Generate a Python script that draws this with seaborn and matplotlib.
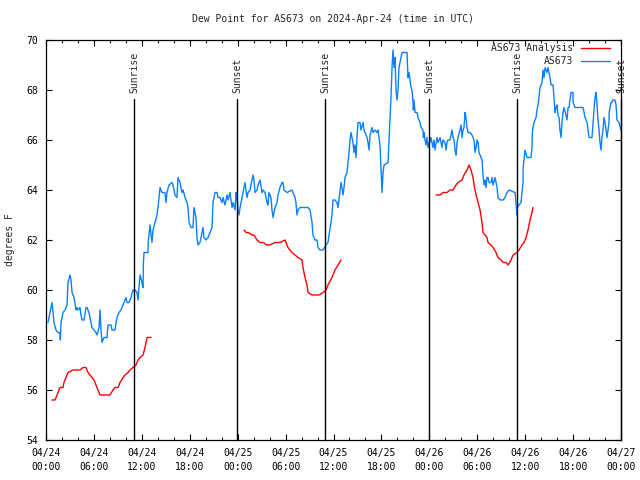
import matplotlib
matplotlib.use("Agg")
import matplotlib.pyplot as plt
import numpy as np
import pandas as pd
import seaborn as sns
from matplotlib.ticker import MultipleLocator
from matplotlib.lines import Line2D

# ---------------- data ----------------
title = "Dew Point for AS673 on 2024-Apr-24 (time in UTC)"
y_label = "degrees F"
series_names = ["AS673 Analysis", "AS673"]

xtick_hours = [0, 6, 12, 18, 24, 30, 36, 42, 48, 54, 60, 66, 72]
xtick_labels = ["04/24\n00:00", "04/24\n06:00", "04/24\n12:00", "04/24\n18:00",
                "04/25\n00:00", "04/25\n06:00", "04/25\n12:00", "04/25\n18:00",
                "04/26\n00:00", "04/26\n06:00", "04/26\n12:00", "04/26\n18:00",
                "04/27\n00:00"]
yticks = [54, 56, 58, 60, 62, 64, 66, 68, 70]

sun_hours = [11.0, 23.92, 34.94, 47.96, 58.98, 72.0]
sun_labels = ["Sunrise", "Sunset", "Sunrise", "Sunset", "Sunrise", "Sunset"]

# observed dew point (hours since 04/24 00:00 UTC, deg F)
obs_hours = [
    0.25, 0.50, 0.75, 1.00, 1.25, 1.50, 1.75, 1.80, 1.88, 2.13, 2.38, 2.63, 2.75, 3.01, 3.13, 3.26,
    3.51, 3.76, 3.88, 4.01, 4.26, 4.38, 4.51, 4.76, 5.01, 5.13, 5.38, 5.63, 5.76, 6.01, 6.26, 6.39,
    6.64, 6.76, 6.89, 7.01, 7.26, 7.64, 7.76, 8.14, 8.26, 8.64, 8.77, 8.89, 9.14, 9.39, 9.52, 9.77,
    10.02, 10.14, 10.39,
    10.52, 10.64, 10.89, 11.14, 11.40, 11.52, 11.77, 12.02, 12.15, 12.20, 12.27, 12.77, 12.80, 13.02,
    13.27, 13.40, 13.65, 13.90, 14.02, 14.28, 14.53, 14.90, 15.03, 15.15, 15.40, 15.78, 15.90, 16.15,
    16.40, 16.53, 16.78, 17.03, 17.16, 17.41, 17.66, 17.78, 17.91, 18.16, 18.41, 18.53, 18.78, 18.91,
    19.03, 19.28, 19.41, 19.66, 19.78, 20.04, 20.29, 20.79, 20.91, 21.16, 21.41, 21.54, 21.79, 22.04,
    22.16, 22.41, 22.67, 22.79, 23.04, 23.29, 23.42, 23.67, 23.79, 23.92, 24.04, 24.17, 24.30, 24.55,
    24.67, 24.92, 25.17, 25.30,
    25.55, 25.92, 26.05, 26.17, 26.42, 26.55, 26.80, 27.05, 27.17, 27.42, 27.67, 27.80, 27.92, 28.17,
    28.30, 28.43, 28.55, 28.68, 28.93, 29.05, 29.30, 29.55, 29.68, 29.80, 30.18, 30.80, 31.18, 31.30,
    31.43, 31.56, 31.81, 32.81, 33.06, 33.31, 33.43, 33.68, 33.93, 34.06, 34.31, 34.69, 35.06, 35.31,
    35.44, 35.69, 35.81, 35.94, 36.19, 36.44, 36.56, 36.69, 36.94, 37.07, 37.19, 37.32, 37.44, 37.69,
    37.82, 37.94, 38.07, 38.19, 38.44, 38.57, 38.69, 38.82, 38.94, 39.07, 39.32, 39.44, 39.70, 39.82,
    39.95, 40.20, 40.32, 40.45,
    40.57, 40.82, 40.95, 41.20, 41.45, 41.57, 41.82, 41.95, 42.08, 42.20, 42.33, 42.83, 42.95, 43.20,
    43.33, 43.45, 43.58, 43.70, 43.83, 43.95, 44.08, 44.20, 44.45, 44.58, 45.21, 45.25, 45.33, 45.46,
    45.71, 45.83, 45.96, 46.00, 46.08, 46.21, 46.46, 46.58, 46.83, 46.96, 47.21, 47.25, 47.33, 47.46,
    47.58, 47.71, 47.83, 47.96, 48.08, 48.21, 48.34, 48.46, 48.59, 48.71, 48.96, 49.09, 49.34, 49.59,
    49.71, 49.96, 50.09, 50.21, 50.34, 50.59, 50.84, 50.97, 51.09, 51.22, 51.34, 51.47, 51.59, 51.84,
    51.97, 52.09, 52.22, 52.34, 52.47, 52.59, 52.72, 52.85, 53.10, 53.35, 53.47, 53.60, 53.72, 53.85,
    53.97, 54.10, 54.22, 54.47, 54.60, 54.72, 54.85, 54.97, 55.10, 55.22, 55.35, 55.48, 55.73, 55.85,
    55.98, 56.23, 56.35, 56.48, 56.60,
    56.85, 57.23, 57.48, 57.73, 57.98, 58.73, 58.85, 58.98, 59.00, 59.23, 59.48, 59.60, 59.73, 59.75,
    59.98, 60.23, 60.73, 60.86, 60.90, 60.98, 61.11, 61.36, 61.48, 61.61, 61.73, 61.86, 62.11, 62.23,
    62.36, 62.49, 62.74, 62.86, 62.99, 63.11, 63.24, 63.49, 63.61, 63.74, 63.86, 63.99, 64.11, 64.24,
    64.36, 64.49, 64.61, 64.74, 64.86, 65.11, 65.24, 65.37, 65.49, 65.74, 65.99, 66.00, 66.24, 67.25,
    67.50, 67.75, 67.87, 68.00, 68.37, 68.50, 68.62, 68.75, 68.87, 69.00, 69.12, 69.25, 69.37, 69.50,
    69.62, 69.75, 69.87, 70.00, 70.25, 70.37, 70.50, 70.52, 70.75, 70.88, 71.00, 71.25, 71.38, 71.50,
    71.75, 72.00,
]
obs_dewpoint = [
    58.7, 59.1, 59.5, 58.7, 58.4, 58.3, 58.3, 58.0, 58.7, 59.1, 59.2, 59.4, 60.3, 60.6, 60.4, 59.9,
    59.7, 59.2, 59.3, 59.2, 59.3, 59.0, 58.8, 58.8, 59.3, 59.3, 59.1, 58.7, 58.5, 58.4, 58.3, 58.2,
    58.5, 59.2, 58.4, 57.9, 58.1, 58.1, 58.6, 58.6, 58.4, 58.4, 58.7, 58.9, 59.1, 59.2, 59.3, 59.5,
    59.7, 59.5, 59.5,
    59.6, 59.7, 60.0, 60.0, 59.9, 59.6, 60.6, 60.3, 60.1, 61.1, 61.5, 61.5, 61.9, 62.6,
    61.9, 62.4, 62.7, 63.0, 63.3, 64.1, 63.9, 63.9, 63.5, 63.9, 64.2, 64.3, 64.2, 63.8,
    63.7, 64.5, 64.3, 63.9, 64.0, 63.7, 63.5, 63.3, 62.7, 62.5, 62.5, 63.3, 62.9, 62.1,
    61.8, 61.9, 62.1, 62.5, 62.1, 62.0, 62.1, 62.5, 63.5, 63.9, 63.9, 63.7, 63.7, 63.5,
    63.7, 63.4, 63.8, 63.6, 63.9, 63.3, 63.5, 63.2, 63.9, 63.7, 63.2, 63.0, 63.3, 63.7,
    63.9, 64.3, 63.7, 63.9,
    64.0, 64.6, 64.4, 63.9, 64.0, 64.2, 64.4, 63.9, 64.0, 63.9, 63.5, 63.4, 63.9, 63.7,
    63.2, 62.9, 63.1, 63.3, 63.5, 63.8, 64.1, 64.3, 64.3, 64.0, 63.9, 64.0, 63.7, 63.5,
    63.0, 63.2, 63.3, 63.3, 63.2, 62.7, 62.2, 62.0, 62.0, 61.7, 61.6, 61.6, 61.8, 61.9,
    62.2, 62.7, 63.0, 63.6, 63.6, 63.5, 63.3, 63.6, 64.3, 64.1, 63.8, 64.1, 64.5, 64.7,
    65.1, 65.5, 66.0, 66.3, 65.9, 65.5, 65.8, 65.3, 66.1, 66.7, 66.7, 66.4, 66.7, 66.4,
    66.3, 66.1, 65.9, 65.6,
    66.2, 66.5, 66.3, 66.4, 66.3, 66.4, 65.8, 64.8, 63.9, 64.7, 65.0, 65.1, 66.0, 67.7,
    68.9, 69.6, 68.9, 69.3, 68.0, 67.6, 68.0, 68.9, 69.3, 69.5, 69.5, 69.1, 68.5, 68.7,
    68.1, 68.0, 67.5, 67.2, 67.6, 67.1, 67.1, 66.9, 66.7, 66.5, 66.4, 66.1, 66.3, 66.0,
    65.8, 66.1, 65.7, 65.9, 65.9, 66.1, 65.9, 65.7, 66.0, 65.6, 66.1, 65.9, 66.1, 65.7,
    66.0, 65.9, 65.6, 65.9, 66.0, 66.0, 66.4, 66.1, 66.0, 65.6, 65.4, 65.9, 66.1, 66.4,
    66.6, 66.1, 66.4, 66.5, 67.1, 66.9, 66.5, 66.3, 66.3, 66.2, 66.1, 66.0, 65.5, 65.7,
    66.0, 65.9, 65.5, 65.3, 65.2, 64.6, 64.2, 64.4, 64.1, 64.5, 64.5, 64.3, 64.3, 64.5,
    64.2, 64.5, 64.3, 64.1, 63.7,
    63.6, 63.6, 63.7, 63.9, 64.0, 63.9, 63.5, 63.0, 63.3, 63.4, 63.5, 63.9, 64.3, 64.9,
    65.6, 65.3, 65.3, 65.7, 66.3, 66.5, 66.7, 66.9, 67.2, 67.4, 67.7, 68.1, 68.3, 68.8,
    68.5, 68.9, 68.7, 68.9, 68.7, 68.5, 68.2, 68.2, 67.7, 67.1, 67.3, 67.4, 67.0, 66.9,
    66.4, 66.1, 66.7, 67.1, 67.3, 67.0, 66.8, 67.3, 67.3, 67.9, 67.9, 67.5, 67.3, 67.3,
    66.9, 66.7, 66.4, 66.1, 66.1, 66.7, 67.2, 67.7, 67.9, 67.4, 66.8, 66.4, 65.9, 65.6,
    66.1, 66.4, 66.9, 66.7, 66.1, 66.4, 66.7, 67.1, 67.5, 67.5, 67.6, 67.6, 67.4, 66.8,
    66.7, 66.4,
]

# analysis runs (three separate segments)
ana1_hours = [0.75, 1.13, 1.38, 1.50, 1.75, 2.13, 2.25, 2.50, 2.75, 3.38, 4.26, 4.63, 5.01, 5.26,
              5.51, 5.76, 6.01, 6.26, 6.51, 6.76, 7.39, 8.01, 8.39, 8.64, 9.02, 9.27, 9.64, 9.89,
              10.27, 10.52, 10.89, 11.27, 11.52, 11.77, 12.15, 12.40, 12.65, 13.15]
ana1_dewpoint = [55.6, 55.6, 55.8, 55.9, 56.1, 56.1, 56.3, 56.5, 56.7, 56.8, 56.8, 56.9, 56.9, 56.7,
                 56.6, 56.5, 56.4, 56.2, 56.0, 55.8, 55.8, 55.8, 56.0, 56.1, 56.1, 56.3, 56.5, 56.6,
                 56.7, 56.8, 56.9, 57.0, 57.2, 57.3, 57.4, 57.7, 58.1, 58.1]
ana2_hours = [24.79, 25.04, 25.30, 25.80, 26.05, 26.42, 26.80, 27.17, 27.67, 28.05, 28.68, 29.30,
              29.93, 30.30, 30.80, 31.18, 31.56, 32.06, 32.18, 32.43, 32.68, 32.81, 33.31, 33.81,
              34.18, 34.69, 35.06, 35.31, 35.81, 36.19, 36.57, 36.94]
ana2_dewpoint = [62.4, 62.3, 62.3, 62.2, 62.2, 62.0, 61.9, 61.9, 61.8, 61.8, 61.9, 61.9,
                 62.0, 61.7, 61.5, 61.4, 61.3, 61.2, 60.9, 60.5, 60.2, 59.9, 59.8, 59.8,
                 59.8, 59.9, 60.0, 60.2, 60.5, 60.8, 61.0, 61.2]
ana3_hours = [48.84, 48.96, 49.34, 49.71, 50.21, 50.59, 50.97, 51.34, 51.59, 52.09, 52.34, 52.72,
              52.97, 53.22, 53.47, 53.60, 53.85, 54.10, 54.35, 54.60, 54.72, 54.97, 55.22, 55.35,
              55.73, 55.98, 56.35, 56.60, 56.98, 57.23, 57.60, 57.85, 58.23, 58.48, 58.98, 59.23,
              59.60, 59.86, 60.11, 60.36, 60.61, 60.86, 60.98]
ana3_dewpoint = [63.8, 63.8, 63.8, 63.9, 63.9, 64.0, 64.0, 64.2, 64.3, 64.4, 64.6, 64.8,
                 65.0, 64.8, 64.5, 64.2, 63.8, 63.5, 63.2, 62.7, 62.3, 62.2, 62.1, 61.9,
                 61.8, 61.7, 61.5, 61.3, 61.2, 61.1, 61.1, 61.0, 61.2, 61.4, 61.5, 61.6,
                 61.8, 61.9, 62.1, 62.4, 62.8, 63.1, 63.3]

# ---------------- frames ----------------
obs_df = pd.DataFrame({"hours": obs_hours, "dewpoint": obs_dewpoint})
ana_df = pd.concat([
    pd.DataFrame({"hours": ana1_hours, "dewpoint": ana1_dewpoint, "run": 1}),
    pd.DataFrame({"hours": ana2_hours, "dewpoint": ana2_dewpoint, "run": 2}),
    pd.DataFrame({"hours": ana3_hours, "dewpoint": ana3_dewpoint, "run": 3}),
], ignore_index=True)

# ---------------- style ----------------
sns.set_theme(style="ticks")
plt.rcParams["font.family"] = ["DejaVu Sans Mono", "DejaVu Sans"]
plt.rcParams["font.size"] = 7

red = "#ff0000"
blue = "#0a80ff"

fig = plt.figure(figsize=(6.4, 4.8), dpi=100)
ax = fig.add_axes([46 / 640, 40 / 480, 575 / 640, 400 / 480])

sns.lineplot(data=ana_df, x="hours", y="dewpoint", units="run", estimator=None,
             color=red, lw=1.0, ax=ax, legend=False, sort=False)
sns.lineplot(data=obs_df, x="hours", y="dewpoint", estimator=None,
             color=blue, lw=1.0, ax=ax, legend=False, sort=False)

ax.set_xlim(xtick_hours[0], xtick_hours[-1])
ax.set_ylim(yticks[0], yticks[-1])
ax.set_xticks(xtick_hours)
ax.set_xticklabels(xtick_labels, linespacing=1.45)
ax.xaxis.set_minor_locator(MultipleLocator(2))
ax.set_yticks(yticks)
ax.set_yticklabels([str(v) for v in yticks])

ax.tick_params(axis="both", which="major", direction="in", length=4, width=0.8,
               top=True, right=True, labelsize=7, colors="black")
ax.tick_params(axis="x", which="minor", direction="in", length=2.2, width=0.8,
               top=True, bottom=True)
ax.tick_params(axis="x", which="major", pad=6)
ax.tick_params(axis="y", which="major", pad=6)
for s in ax.spines.values():
    s.set_color("black")
    s.set_linewidth(0.9)

ax.set_xlabel("")
ax.set_ylabel(y_label, fontsize=7, labelpad=8)
ax.set_title(title, fontsize=7, pad=13)

# sunrise / sunset markers
line_top = 67.62
for h, lab in zip(sun_hours, sun_labels):
    ax.plot([h, h], [yticks[0], line_top], color="black", lw=1.0, clip_on=False)
    ax.text(h + 0.1, 67.88, lab, rotation=90, ha="center", va="bottom",
            fontsize=7, clip_on=False)

handles = [Line2D([], [], color=red, lw=1.0), Line2D([], [], color=blue, lw=1.0)]
ax.legend(handles, series_names, loc="upper right", bbox_to_anchor=(0.98, 0.992),
          frameon=False, markerfirst=False, borderaxespad=0, borderpad=0,
          handlelength=2.9, handletextpad=0.8, labelspacing=0.3, fontsize=7)

fig.savefig("out.png", dpi=100)
